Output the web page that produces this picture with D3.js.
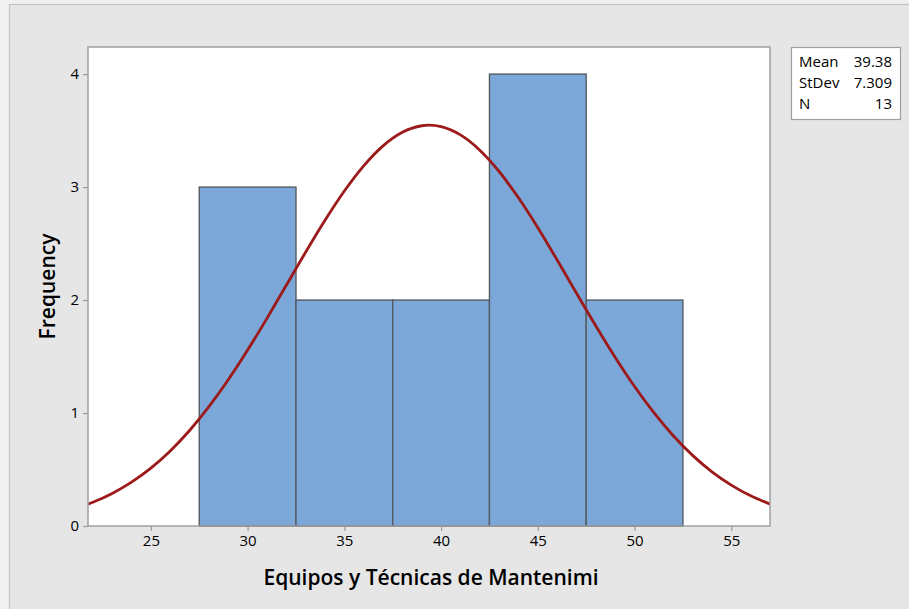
<!DOCTYPE html>
<html><head><meta charset="utf-8">
<script src="https://cdn.jsdelivr.net/npm/d3@7"></script>
<style>
html,body{margin:0;padding:0;background:#f0f0f0;}
svg{display:block;font-family:"Open Sans","Noto Sans",sans-serif;}
</style></head>
<body>
<svg id="chart" width="909" height="609"></svg>
<script>
// ---- data ----
const binStarts = [27.5, 32.5, 37.5, 42.5, 47.5];
const binWidth = 5;
const counts = [3, 2, 2, 4, 2];
const xTicks = [25, 30, 35, 40, 45, 50, 55];
const yTicks = [0, 1, 2, 3, 4];
const curveX = [21.75,22,23,24,25,26,27,28,29,30,31,32,33,34,35,36,37,38,39,39.38,40,41,42,43,44,45,46,47,48,49,50,51,52,53,54,55,56,57];
const curveY = [0.193,0.210,0.288,0.388,0.512,0.664,0.845,1.056,1.294,1.557,1.838,2.131,2.424,2.706,2.965,3.188,3.365,3.485,3.543,3.548,3.535,3.462,3.327,3.138,2.905,2.640,2.354,2.060,1.770,1.492,1.235,1.003,0.799,0.625,0.480,0.362,0.267,0.194];
const statLabels = ["Mean", "StDev", "N"];
const statValues = ["39.38", "7.309", "13"];
const xTitle = "Equipos y Técnicas de Mantenimi";
const yTitle = "Frequency";

// ---- layout ----
const svg = d3.select("#chart");
const L = 88, R = 770, T = 47, B = 526;
const x = d3.scaleLinear().domain([21.75, 57.0]).range([L, R]);
const y = d3.scaleLinear().domain([0, 4.24]).range([B, T]);

// outer frame
svg.append("rect").attr("x", 9.5).attr("y", 4.5).attr("width", 920).attr("height", 620)
  .attr("fill", "#e6e6e6").attr("stroke", "#c4c4c4").attr("stroke-width", 1.2);

// plot area
svg.append("rect").attr("x", L).attr("y", T).attr("width", R - L).attr("height", B - T)
  .attr("fill", "#ffffff");

svg.append("clipPath").attr("id", "clip").append("rect")
  .attr("x", L).attr("y", T).attr("width", R - L).attr("height", B - T);

// bars
svg.append("g").selectAll("rect").data(binStarts).join("rect")
  .attr("x", d => x(d))
  .attr("width", d => x(d + binWidth) - x(d))
  .attr("y", (d, i) => y(counts[i]))
  .attr("height", (d, i) => y(0) - y(counts[i]))
  .attr("fill", "#7ba7d9")
  .attr("stroke", "#555b62")
  .attr("stroke-width", 1.4);

// fitted curve
const line = d3.line().x(d => x(d[0])).y(d => y(d[1])).curve(d3.curveMonotoneX);
svg.append("path")
  .datum(curveX.map((v, i) => [v, curveY[i]]))
  .attr("d", line)
  .attr("clip-path", "url(#clip)")
  .attr("fill", "none")
  .attr("stroke", "#9c1a1a")
  .attr("stroke-width", 2.8);

// plot border
svg.append("rect").attr("x", L).attr("y", T).attr("width", R - L).attr("height", B - T)
  .attr("fill", "none").attr("stroke", "#a0a0a0").attr("stroke-width", 1.5);

// axes
const xAxis = svg.append("g").attr("transform", `translate(0,${B})`)
  .call(d3.axisBottom(x).tickValues(xTicks).tickFormat(d3.format("d")).tickSize(5).tickPadding(4).tickSizeOuter(0));
const yAxis = svg.append("g").attr("transform", `translate(${L},0)`)
  .call(d3.axisLeft(y).tickValues(yTicks).tickFormat(d3.format("d")).tickSize(5).tickPadding(4).tickSizeOuter(0));
[xAxis, yAxis].forEach(a => {
  a.select(".domain").remove();
  a.selectAll(".tick line").attr("stroke", "#9a9a9a").attr("stroke-width", 1.2);
  a.selectAll(".tick text").attr("fill", "#000").style("font-size", "15px").style("font-weight", 500)
    .style("font-family", '"Open Sans","Noto Sans",sans-serif');
});

// titles
svg.append("text").attr("x", (L + R) / 2 + 2).attr("y", 585)
  .attr("text-anchor", "middle").style("font-size", "21px").style("font-weight", 600)
  .attr("fill", "#000").text(xTitle);
svg.append("text").attr("transform", `translate(55,${(T + B) / 2}) rotate(-90)`)
  .attr("text-anchor", "middle").style("font-size", "21px").style("font-weight", 600)
  .attr("fill", "#000").text(yTitle);

// stats box
svg.append("rect").attr("x", 791.5).attr("y", 47.5).attr("width", 109).attr("height", 72)
  .attr("fill", "#ffffff").attr("stroke", "#a0a0a0").attr("stroke-width", 1.2);
const st = svg.append("g");
statLabels.forEach((s, i) => {
  st.append("text").attr("x", 799).attr("y", 67 + i * 21)
    .style("font-size", "15px").style("font-weight", 500).attr("fill", "#000").text(s);
  st.append("text").attr("x", 892).attr("y", 67 + i * 21).attr("text-anchor", "end")
    .style("font-size", "15px").style("font-weight", 500).attr("fill", "#000").text(statValues[i]);
});
</script>
</body></html>
